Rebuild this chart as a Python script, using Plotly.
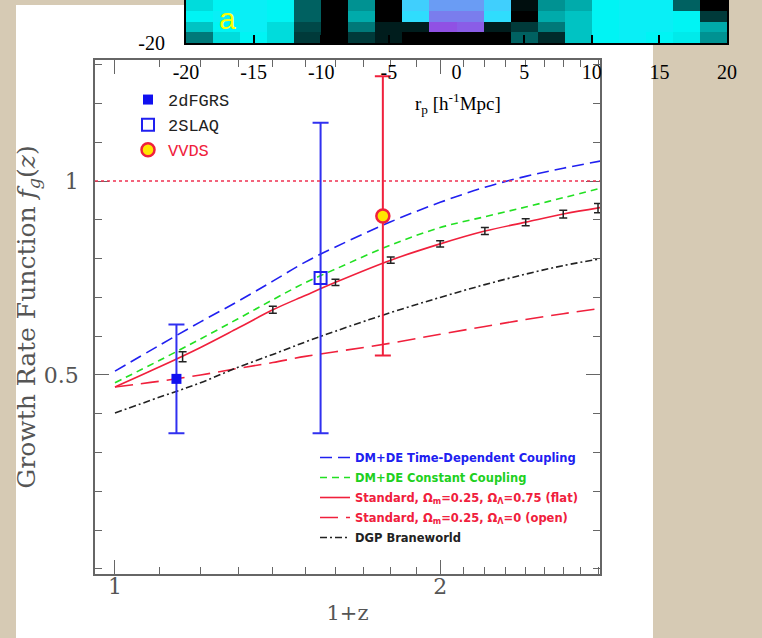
import plotly.graph_objects as go

W, H = 762, 638

# ---------------- data ----------------
curve_x = [1.0, 1.1, 1.2, 1.3, 1.4, 1.5, 1.6, 1.8, 2.0, 2.2, 2.4, 2.6, 2.82]
f_time_dep = [0.51, 0.577, 0.637, 0.69, 0.742, 0.791, 0.83, 0.895, 0.945, 0.984, 1.012, 1.033, 1.052]
f_const = [0.48, 0.538, 0.593, 0.645, 0.694, 0.738, 0.773, 0.835, 0.88, 0.908, 0.933, 0.957, 0.982]
f_flat = [0.469, 0.521, 0.571, 0.621, 0.668, 0.705, 0.739, 0.796, 0.838, 0.871, 0.894, 0.915, 0.932]
f_open = [0.469, 0.484, 0.50, 0.517, 0.532, 0.548, 0.560, 0.582, 0.605, 0.625, 0.643, 0.658, 0.672]
f_dgp = [0.402, 0.443, 0.48, 0.52, 0.553, 0.585, 0.613, 0.661, 0.70, 0.733, 0.76, 0.782, 0.80]

curve_names = [
    "DM+DE Time-Dependent Coupling",
    "DM+DE Constant Coupling",
    "Standard, Ω<sub>m</sub>=0.25, Ω<sub>Λ</sub>=0.75 (flat)",
    "Standard, Ω<sub>m</sub>=0.25, Ω<sub>Λ</sub>=0 (open)",
    "DGP Braneworld",
]

sim_x = [1.155, 1.4, 1.6, 1.8, 2.0, 2.2, 2.4, 2.6, 2.8]
sim_f = [0.547, 0.668, 0.739, 0.796, 0.838, 0.871, 0.894, 0.915, 0.93]
sim_err = [0.013, 0.009, 0.008, 0.008, 0.008, 0.009, 0.009, 0.01, 0.012]

obs_names = ["2dFGRS", "2SLAQ", "VVDS"]
obs_x = [1.14, 1.55, 1.77]
obs_f = [0.49, 0.75, 0.91]
obs_err = [0.14, 0.40, 0.36]

x_major = [1, 2]
x_minor = [1.1, 1.2, 1.3, 1.4, 1.5, 1.6, 1.7, 1.8, 1.9, 2.1, 2.2, 2.3, 2.4, 2.5, 2.6, 2.7, 2.8]
y_major = [0.5, 1]
y_major_text = ["0.5", "1"]

# density map (inset, partially visible strip)
map_x = [-19, -17, -15, -13, -11, -9, -7, -5, -3, -1, 1, 3, 5, 7, 9, 11, 13, 15, 17, 19]
map_y = [-19.25, -17.75, -16.25, -14.75]
map_z = [
    [0.35, 0.55, 0.6, 0.55, 0.2, 0, 0.2, 0.1, 0, 0, 0, 0, 0.3, 0.15, 0.5, 0.6, 0.62, 0.6, 0.58, 0.4],
    [0.5, 0.6, 0.62, 0.55, 0.25, 0, 0.35, 0.1, 0.1, 0.97, 0.95, 0.1, 0.2, 0.35, 0.5, 0.6, 0.62, 0.62, 0.6, 0.45],
    [0.6, 0.62, 0.62, 0.6, 0.3, 0, 0.45, 0, 0.7, 0.9, 0.9, 0.7, 0, 0.45, 0.5, 0.6, 0.62, 0.62, 0.6, 0.2],
    [0.55, 0.6, 0.62, 0.6, 0.3, 0, 0.4, 0, 0.74, 0.85, 0.85, 0.74, 0.05, 0.4, 0.45, 0.6, 0.62, 0.62, 0.3, 0],
]
rp_ticks = [-20, -15, -10, -5, 0, 5, 10, 15, 20]


def px_x(p):
    return p / W


def px_y(p):
    return 1 - p / H


RED = "#f0203c"
BLUE = "#2020f0"
GREEN = "#22e022"
BLACK = "#222222"
GRAY = "#555555"

fig = go.Figure()

# density map inset
fig.add_trace(go.Heatmap(
    x=map_x, y=map_y, z=map_z, xaxis="x3", yaxis="y3", showscale=False,
    zmin=0, zmax=1, hoverinfo="skip",
    colorscale=[[0, "#000000"], [0.25, "#004848"], [0.42, "#009c9c"], [0.6, "#00f4f4"],
                [0.72, "#38d8ff"], [0.85, "#6a9cf4"], [1, "#9a3ee0"]],
))

curve_styles = [
    (f_time_dep, BLUE, "12px,6px"),
    (f_const, GREEN, "7px,5px"),
    (f_flat, RED, "solid"),
    (f_open, RED, "18px,8px"),
    (f_dgp, BLACK, "7px,3px,2px,3px"),
]
text_colors = [BLUE, "#20d020", RED, RED, BLACK]
for k, ((yv, col, dash), nm, tc) in enumerate(zip(curve_styles, curve_names, text_colors)):
    fig.add_trace(go.Scatter(
        x=curve_x, y=yv, mode="lines", legend="legend2", legendgroup=f"c{k}",
        line=dict(color=col, width=1.6, dash=dash, shape="spline"),
        name=f"<b><span style='color:{tc}'>{nm}</span></b>",
    ))

fig.add_trace(go.Scatter(
    x=sim_x, y=sim_f, mode="markers", showlegend=False, cliponaxis=False,
    marker=dict(size=1, color="rgba(0,0,0,0)"),
    error_y=dict(type="data", array=sim_err, color=BLACK, thickness=1.5, width=4),
))

obs_styles = [
    dict(symbol="square", size=10, color="#1010f0"),
    dict(symbol="square-open", size=12, color="#2020f0", line=dict(width=2, color="#2020f0")),
    dict(symbol="circle", size=13, color="#ffe600", line=dict(width=2.5, color=RED)),
]
obs_err_col = ["#3030f0", "#3030f0", RED]
obs_text_col = ["#222222", "#222222", RED]
for i in range(3):
    fig.add_trace(go.Scatter(
        x=[obs_x[i]], y=[obs_f[i]], mode="markers", legend="legend",
        name=f"<span style='color:{obs_text_col[i]}'>{obs_names[i]}</span>",
        marker=obs_styles[i],
        error_y=dict(type="data", array=[obs_err[i]], color=obs_err_col[i], thickness=2, width=8),
    ))

fig.add_hline(y=1, line=dict(color="#f03050", width=1.5, dash="dot"))

# white paper panel
fig.add_shape(type="rect", xref="paper", yref="paper", x0=px_x(16), x1=px_x(653),
              y0=0, y1=px_y(5), fillcolor="white", line_width=0, layer="below")

serif = "DejaVu Serif"
axis_common = dict(showgrid=False, zeroline=False, showline=True, linecolor="#666",
                   linewidth=1.5, mirror="allticks", ticks="inside", ticklen=14,
                   tickwidth=1.3, tickcolor="#666", automargin=False,
                   tickfont=dict(family=serif, size=22, color=GRAY))

fig.update_layout(
    width=W, height=H, margin=dict(l=0, r=0, t=0, b=0, autoexpand=False),
    paper_bgcolor="#d6cab4", plot_bgcolor="rgba(0,0,0,0)",
    xaxis=dict(type="log", range=[-0.0185, 0.449], domain=[px_x(95), px_x(600)],
               anchor="y", tickvals=x_major, ticktext=[str(v) for v in x_major],
               ticklabelstandoff=-8,
               minor=dict(tickvals=x_minor, ticks="inside", ticklen=7, tickcolor="#666", tickwidth=1.2),
               title=dict(text="1+z", font=dict(family=serif, size=21, color=GRAY), standoff=7),
               **axis_common),
    yaxis=dict(range=[-0.013, 1.312], domain=[px_y(574), px_y(60)], anchor="x",
               tickvals=y_major, ticktext=y_major_text, ticklabelstandoff=10,
               minor=dict(dtick=0.1, tick0=0, ticks="inside", ticklen=7, tickcolor="#666", tickwidth=1.2),
               title=dict(text="Growth Rate Function <i>f<sub>g</sub></i>(<i>z</i>)",
                          font=dict(family=serif, size=25, color=GRAY), standoff=0),
               **axis_common),
    xaxis3=dict(domain=[px_x(186), px_x(727)], range=[-20, 20], anchor="y3", automargin=False,
                showgrid=False, zeroline=False, showline=True, linecolor="black", linewidth=2,
                mirror=True, ticks="inside", ticklen=8, tickcolor="black", tickwidth=1.5,
                tickvals=rp_ticks, ticktext=[str(v) for v in rp_ticks], ticklabelstandoff=10,
                tickfont=dict(family="Liberation Serif", size=20, color="black")),
    yaxis3=dict(domain=[px_y(43), 1], range=[-20, -14], anchor="x3", automargin=False,
                showgrid=False, zeroline=False, showline=True, linecolor="black", linewidth=2,
                mirror=True, ticks="", tickvals=[-20], ticktext=["-20"], ticklabelstandoff=15,
                tickfont=dict(family="Liberation Serif", size=20, color="black")),
    legend=dict(x=px_x(128), y=px_y(82), xanchor="left", yanchor="top",
                bgcolor="rgba(0,0,0,0)", font=dict(family="Liberation Mono", size=17, color="#222")),
    legend2=dict(x=px_x(315), y=px_y(443), xanchor="left", yanchor="top",
                 traceorder="grouped", tracegroupgap=1,
                 bgcolor="rgba(0,0,0,0)", font=dict(family="DejaVu Sans", size=11.5, color="#222")),
    annotations=[
        dict(text="a", xref="paper", yref="paper", x=px_x(227), y=1, xanchor="center",
             yanchor="top", showarrow=False, font=dict(family="Liberation Sans", size=30, color="#ffff00")),
        dict(text="r<sub>p</sub> [h<sup>-1</sup>Mpc]", xref="paper", yref="paper",
             x=px_x(458), y=px_y(103), xanchor="center", yanchor="middle", showarrow=False,
             font=dict(family="Liberation Serif", size=19, color="black")),
    ],
)

fig.write_html("out.html")
